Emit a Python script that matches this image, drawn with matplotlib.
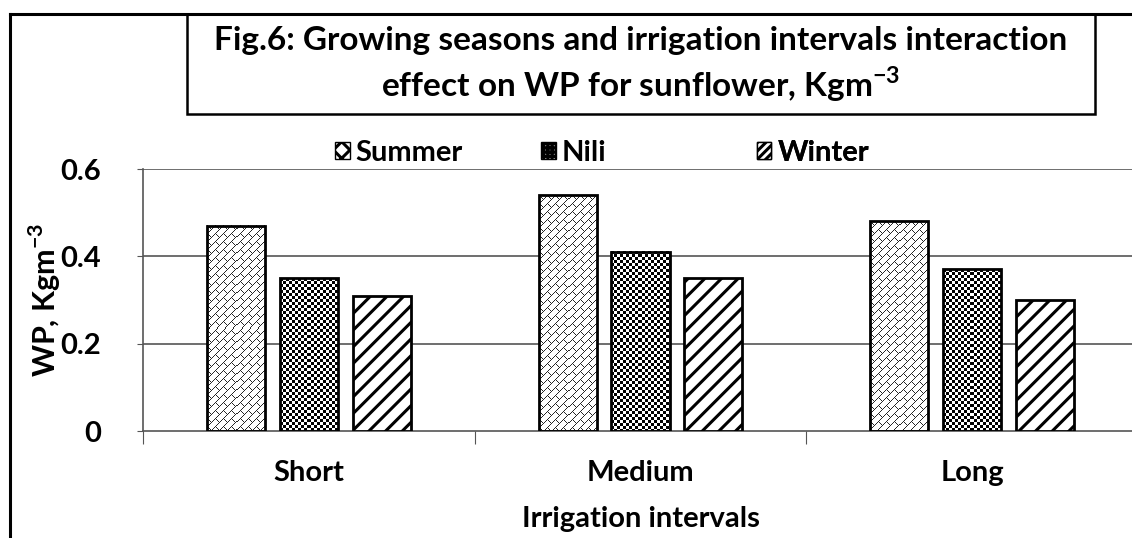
import numpy as np
import matplotlib.pyplot as plt
from matplotlib.patches import Patch, Rectangle
from matplotlib.lines import Line2D

plt.rcParams['font.family'] = ['Lato', 'DejaVu Sans']
plt.rcParams['font.weight'] = 'bold'
plt.rcParams['hatch.linewidth'] = 2.2
plt.rcParams['mathtext.fontset'] = 'custom'
plt.rcParams['mathtext.rm'] = 'Lato:bold'
plt.rcParams['mathtext.bf'] = 'Lato:bold'

categories = ['Short', 'Medium', 'Long']
seasons = ['Summer', 'Nili', 'Winter']
summer = [0.47, 0.54, 0.48]
nili = [0.35, 0.41, 0.37]
winter = [0.31, 0.35, 0.30]
yticks = [0, 0.2, 0.4, 0.6]
ytick_labels = ['0', '0.2', '0.4', '0.6']


def brick_texture(h, w, period=8):
    # diagonal brick fill like the Excel pattern
    i, j = np.mgrid[0:h, 0:w]
    s = i + j
    t = j - i
    band = s // period
    line = (s % period) == 0
    off = (band % 2) * period
    conn = ((t - off) % (2 * period)) < 1
    return np.where(line | conn, 0.15, 1.0)


def checker_texture(h, w, cell=3):
    i, j = np.mgrid[0:h, 0:w]
    return np.where(((i // cell) + (j // cell)) % 2 == 0, 0.0, 1.0)


fig = plt.figure(figsize=(11.32, 5.38), dpi=100)
ax = fig.add_axes([143 / 1132, 107 / 538, 995 / 1132, 262 / 538])
ax.set_xlim(0, 3)
ax.set_ylim(0, 0.6)

x = np.arange(len(categories)) + 0.5
width = 0.175
offsets = [-0.22, 0.0, 0.22]

px_per_x = 995 / 3
px_per_y = 262 / 0.6

for k, (vals, kind) in enumerate([(summer, 'brick'), (nili, 'checker'), (winter, 'hatch')]):
    for xi, v in zip(x, vals):
        x0 = xi + offsets[k] - width / 2
        if kind == 'hatch':
            ax.bar(xi + offsets[k], v, width, facecolor='white', edgecolor='black',
                   linewidth=2.0, hatch='//', zorder=3)
            continue
        w_px = int(round(width * px_per_x))
        h_px = int(round(v * px_per_y))
        tex = brick_texture(h_px, w_px) if kind == 'brick' else checker_texture(h_px, w_px)
        ax.imshow(tex, cmap='gray', vmin=0, vmax=1, extent=(x0, x0 + width, 0, v),
                  aspect='auto', interpolation='nearest', zorder=2.5)
        ax.bar(xi + offsets[k], v, width, facecolor='none', edgecolor='black',
               linewidth=2.0, zorder=3)

ax.set_xlim(0, 3)
ax.set_ylim(0, 0.6)

# gridlines
for yv in yticks[1:]:
    ax.axhline(yv, color='#555555', linewidth=1.2, zorder=0)

for side in ['top', 'right']:
    ax.spines[side].set_visible(False)
for side in ['left', 'bottom']:
    ax.spines[side].set_color('#555555')
    ax.spines[side].set_linewidth(1.2)

ax.set_yticks(yticks)
ax.set_yticklabels(ytick_labels, fontsize=21, fontweight='bold')
ax.tick_params(axis='y', length=4, color='#555555', pad=26)

ax.set_xticks([0, 1, 2, 3])
ax.set_xticklabels([])
ax.set_xticks(x, minor=True)
ax.set_xticklabels(categories, minor=True, fontsize=21, fontweight='bold')
ax.tick_params(axis='x', which='major', length=9, color='#555555', direction='out')
ax.tick_params(axis='x', which='minor', length=0, pad=21)

ax.set_xlabel('Irrigation intervals', fontsize=21, fontweight='bold', labelpad=14)
ax.set_ylabel('WP, Kgm$^{-3}$', fontsize=22, fontweight='bold')
ax.yaxis.set_label_coords(-0.080, 0.5)

# legend, one entry per anchor like the original layout
hatches = ['xx', '++++', '////']
anchors = [0.193, 0.400, 0.617]
for name, h, a in zip(seasons, hatches, anchors):
    leg = ax.legend([Patch(facecolor='white', edgecolor='black', hatch=h, linewidth=1.0)],
                    [name], frameon=False, loc='center left', bbox_to_anchor=(a, 1.062),
                    handlelength=0.5, handleheight=0.5, handletextpad=0.2,
                    borderpad=0, borderaxespad=0, prop={'weight': 'bold', 'size': 21})
    ax.add_artist(leg)

# outer frame and title box
fig.add_artist(Line2D([10 / 1132, 10 / 1132], [0, 1 - 14 / 538], transform=fig.transFigure,
                      color='black', linewidth=2.2))
fig.add_artist(Line2D([10 / 1132, 1], [1 - 14 / 538, 1 - 14 / 538], transform=fig.transFigure,
                      color='black', linewidth=2.2))
fig.add_artist(Rectangle((187 / 1132, 1 - 114 / 538), (1095 - 187) / 1132, 100 / 538,
                         transform=fig.transFigure, facecolor='none', edgecolor='black',
                         linewidth=1.8))
fig.text(641 / 1132, 1 - 65 / 538,
         'Fig.6: Growing seasons and irrigation intervals interaction\n'
         'effect on WP for sunflower, Kgm$^{-3}$',
         ha='center', va='center', fontsize=24, fontweight='bold', linespacing=1.3)

fig.savefig('out.png', dpi=100)
